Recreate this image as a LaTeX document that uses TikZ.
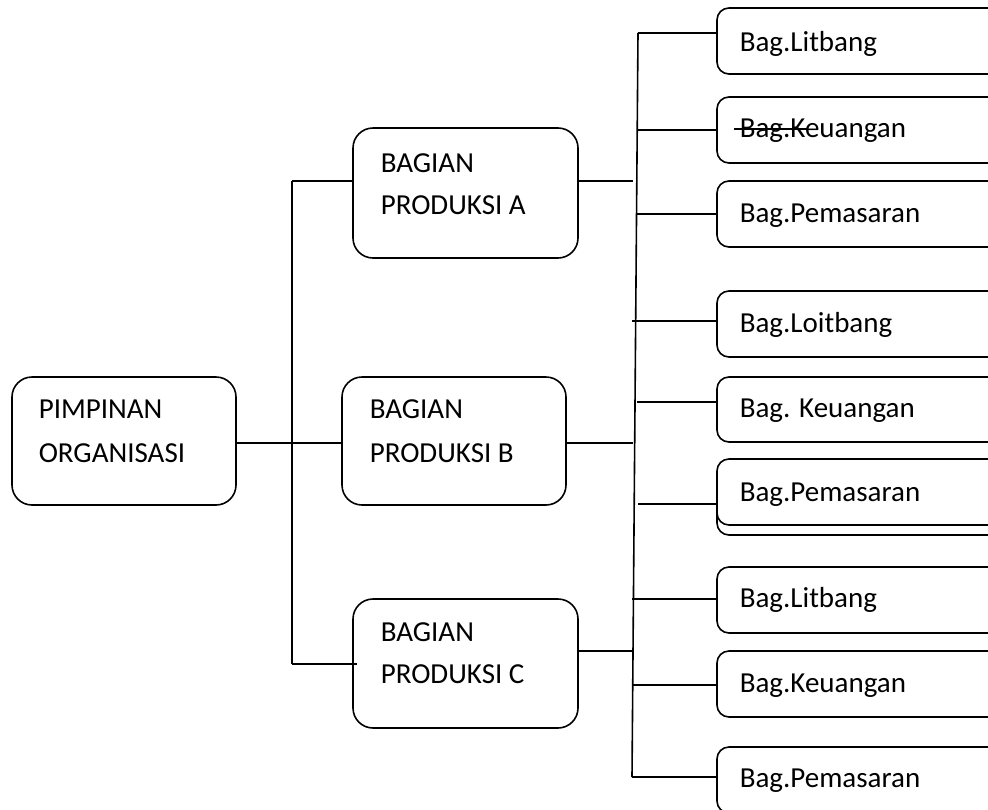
\documentclass[tikz,border=0pt]{standalone}
\usepackage{fontspec}
\setmainfont{Carlito}
\begin{document}
\begin{tikzpicture}[x=1pt,y=-1pt,
  line width=1.6pt,
  bigbox/.style={draw, rounded corners=20pt, minimum width=224pt, minimum height=128pt, inner sep=0pt, fill=white},
  smallbox/.style={draw, rounded corners=12pt, minimum width=293pt, minimum height=66pt, inner sep=0pt, fill=white},
  lbl/.style={anchor=base west, inner sep=0pt, font=\fontsize{29}{35}\selectfont},
  link/.style={line width=1.6pt}]
\useasboundingbox (0,0) rectangle (988,809);
\clip (0,0) rectangle (988,809);

% main boxes
\node[bigbox] (pim) at (124,441) {};
\node[bigbox, minimum width=225pt, minimum height=130pt] (pa) at (465.5,193) {};
\node[bigbox] (pb) at (454,441) {};
\node[bigbox, minimum width=225pt, minimum height=129pt] (pc) at (465.5,663.5) {};

\node[lbl] (pim1) at (38,418) {PIMPINAN};
\node[lbl] (pim2) at (38,462) {ORGANISASI};
\node[lbl] (pa1) at (380,172) {BAGIAN};
\node[lbl] (pa2) at (380,214) {PRODUKSI A};
\node[lbl] (pb1) at (369,418) {BAGIAN};
\node[lbl] (pb2) at (369,462) {PRODUKSI B};
\node[lbl] (pc1) at (380,641) {BAGIAN};
\node[lbl] (pc2) at (380,683) {PRODUKSI C};

% section boxes
\node[smallbox] (b1) at (863.5,41) {};
\node[smallbox] (b2) at (863.5,130) {};
\node[smallbox] (b3) at (863.5,214) {};
\node[smallbox] (b4) at (863.5,324) {};
\node[smallbox, minimum height=65pt] (b5) at (863.5,409.5) {};
\node[smallbox, minimum height=72pt] (b6back) at (863.5,499) {};
\node[smallbox] (b6) at (863.5,492) {};
\node[smallbox] (b7) at (863.5,600) {};
\node[smallbox] (b8) at (863.5,684) {};
\node[smallbox] (b9) at (863.5,780) {};

\node[lbl] (t1) at (739,51) {Bag.Litbang};
\node[lbl] (t2) at (739,137) {Bag.Keuangan};
\node[lbl] (t3) at (739,222) {Bag.Pemasaran};
\node[lbl] (t4) at (739,332) {Bag.Loitbang};
\node[lbl] (t5) at (739,417) {Bag. Keuangan};
\node[lbl] (t6) at (739,501) {Bag.Pemasaran};
\node[lbl] (t7) at (739,607) {Bag.Litbang};
\node[lbl] (t8) at (739,692) {Bag.Keuangan};
\node[lbl] (t9) at (739,787) {Bag.Pemasaran};

% stray stroke across the second label
\draw[link] (734,129) -- (807,129);

% left spine
\coordinate (lt) at (292,181);
\coordinate (lb) at (292,664);
\draw[link] (lt) -- (lb);
\draw[link] (lt) -- (lt -| pa.west);
\draw[link] (lb) -- (357,664);
\draw[link] (pim.east |- 0,443) -- (pb.west |- 0,443);

% right spine
\coordinate (rt) at (638,33);
\coordinate (rb) at (632,777);
\draw[link] (rt) -- (rb);
\draw[link] (rt) -- (rt -| b1.west);
\draw[link] (637,130) -- (b2.west |- 0,130);
\draw[link] (637,214) -- (b3.west |- 0,214);
\draw[link] (632,321) -- (b4.west |- 0,321);
\draw[link] (637,402) -- (b5.west |- 0,402);
\draw[link] (638,504) -- (b6.west |- 0,504);
\draw[link] (632,599) -- (b7.west |- 0,599);
\draw[link] (632,685) -- (b8.west |- 0,685);
\draw[link] (rb) -- (rb -| b9.west);

% links from the production sections towards the right spine
\draw[link] (pa.east |- 0,181) -- (633,181);
\draw[link] (pb.east |- 0,443) -- (633,443);
\draw[link] (pc.east |- 0,651) -- (632,651);
\end{tikzpicture}
\end{document}
